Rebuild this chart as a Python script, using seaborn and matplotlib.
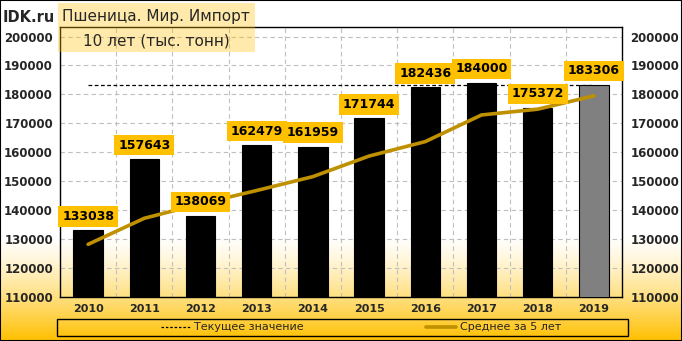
import numpy as np
import pandas as pd
import matplotlib
matplotlib.use('Agg')
import matplotlib.pyplot as plt
import seaborn as sns
from matplotlib.patches import Rectangle
from matplotlib.lines import Line2D

# ---- data ----
years = ['2010', '2011', '2012', '2013', '2014', '2015', '2016', '2017', '2018', '2019']
imports = [133038, 157643, 138069, 162479, 161959, 171744, 182436, 184000, 175372, 183306]
avg5 = [128200, 137200, 142200, 146800, 151600, 158700, 163700, 172900, 174900, 179500]
current = imports[-1]
title_lines = ['Пшеница. Мир. Импорт', '10 лет (тыс. тонн)']
brand = 'IDK.ru'
legend_labels = ['Текущее значение', 'Среднее за 5 лет']
yticks = list(range(110000, 200001, 10000))

sns.set_theme(style='white')
plt.rcParams['font.family'] = ['DejaVu Sans']

W, H = 682, 341
fig = plt.figure(figsize=(W / 100, H / 100), dpi=100)

# background gradient
bg = fig.add_axes([0, 0, 1, 1], zorder=-10)
rows = np.arange(H)
t = np.clip((rows - 235) / (H - 1 - 235), 0, 1) ** 1.3
img = np.ones((H, 1, 3))
img[:, 0, 1] = 1 - t * (63 / 255)
img[:, 0, 2] = 1 - t
bg.imshow(img, aspect='auto', extent=[0, 1, 0, 1])
bg.axis('off')

ax = fig.add_axes([60 / W, 1 - 297 / H, 562 / W, 270 / H])
ax.set_facecolor('none')

df = pd.DataFrame({'year': years, 'value': imports})
colors = ['#000000'] * (len(years) - 1) + ['#808080']
sns.barplot(data=df, x='year', y='value', hue='year', palette=colors, legend=False,
            width=0.52, edgecolor='black', linewidth=0.8, ax=ax, zorder=3)

pos = np.arange(len(years))
ax.plot([pos[0], pos[-1]], [current, current], ls=(0, (3, 2)), color='black', lw=0.9, zorder=2)
sns.lineplot(x=pos, y=avg5, color='#BF9000', lw=2.6, ax=ax, zorder=4)

ax.set_xlim(-0.5, len(years) - 0.5)
ax.set_ylim(110000, 203300)
ax.set_yticks(yticks)
ax.set_yticklabels([str(v) for v in yticks], fontweight='bold', fontsize=8.5)
ax.set_xticks(pos)
ax.set_xticklabels(years, fontweight='bold', fontsize=8)
ax.set_xticks(np.arange(-0.5, len(years), 1), minor=True)
ax.yaxis.grid(True, ls=(0, (4, 3)), color='#BFBFBF', lw=0.8)
ax.xaxis.grid(True, which='minor', ls=(0, (4, 3)), color='#BFBFBF', lw=0.8)
ax.xaxis.grid(False, which='major')
ax.set_axisbelow(True)
ax.tick_params(axis='both', which='both', length=0)
ax.tick_params(axis='y', pad=5)
ax.tick_params(axis='x', pad=5)
ax.set_xlabel('')
ax.set_ylabel('')
for s in ax.spines.values():
    s.set_visible(True)
    s.set_color('black')
    s.set_linewidth(1)

ax2 = ax.twinx()
ax2.set_ylim(ax.get_ylim())
ax2.set_yticks(yticks)
ax2.set_yticklabels([str(v) for v in yticks], fontweight='bold', fontsize=8.5)
ax2.tick_params(axis='y', length=0, pad=6)
ax2.grid(False)
for s in ax2.spines.values():
    s.set_visible(False)

for i, v in enumerate(imports):
    ax.annotate(str(v), xy=(pos[i], v), xytext=(0, 10), textcoords='offset points',
                ha='center', va='center', fontsize=9, fontweight='bold', color='black',
                family=['DejaVu Sans Condensed', 'DejaVu Sans'],
                bbox=dict(boxstyle='square,pad=0.3', fc='#FFC000', ec='none'), zorder=6)

# title
fig.text(3 / W, 1 - 18 / H, brand, fontsize=10.5, fontweight='bold', va='center', ha='left')
fig.patches.append(Rectangle((58 / W, 1 - 52 / H), 197 / W, 49 / H, transform=fig.transFigure,
                             fc='#FFC000', alpha=0.33, ec='none', zorder=1))
fig.text(156 / W, 1 - 16 / H, title_lines[0], fontsize=11, ha='center', va='center')
fig.text(156 / W, 1 - 41 / H, title_lines[1], fontsize=11, ha='center', va='center')

# legend
fig.patches.append(Rectangle((57 / W, 1 - 336 / H), 571 / W, 17 / H, transform=fig.transFigure,
                             fill=False, ec='black', lw=1, zorder=1))
handles = [Line2D([], [], color='black', ls=(0, (2, 1.5)), lw=0.9),
           Line2D([], [], color='#BF9000', lw=2.6)]
fig.legend(handles, legend_labels, loc='center', bbox_to_anchor=(361 / W, 1 - 327.5 / H),
           ncol=2, frameon=False, fontsize=8, handlelength=2.7, handletextpad=0.3,
           columnspacing=11)

fig.patches.append(Rectangle((0, 0), 1, 1, transform=fig.transFigure, fill=False,
                             ec='black', lw=1.5, zorder=10))

fig.savefig('out.png', dpi=100)
